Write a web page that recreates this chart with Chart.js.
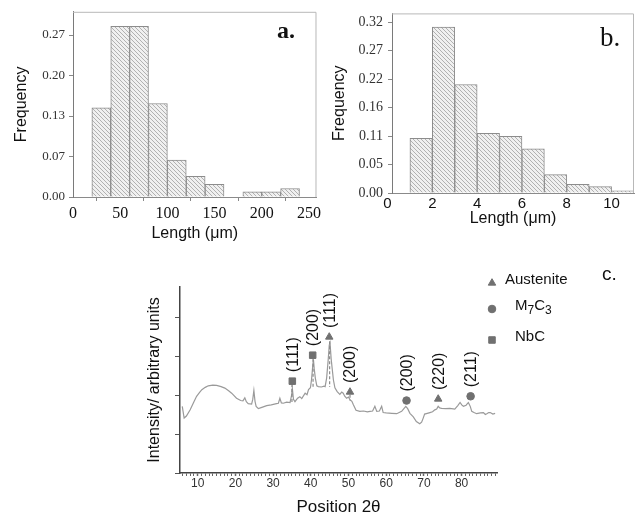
<!DOCTYPE html>
<html>
<head>
<meta charset="utf-8">
<title>Length distributions and XRD pattern</title>
<script src="https://cdn.jsdelivr.net/npm/chart.js@4.4.0/dist/chart.umd.min.js"></script>
<style>
    body { margin: 0; background: #fff; }
    #fig { position: relative; width: 639px; height: 518px; overflow: hidden; background: #fff; }
    #fig canvas { position: absolute; }
    .tag { position: absolute; color: #111; line-height: 1; white-space: nowrap; }
</style>
</head>
<body>
<div id="fig">
    <canvas id="chartA" width="324" height="250" style="left:0;top:0"></canvas>
    <canvas id="chartB" width="317" height="250" style="left:322px;top:0"></canvas>
    <canvas id="chartC" width="509" height="263" style="left:130px;top:255px"></canvas>
    <div class="tag" style="left:277px;top:17px;font:bold 24px 'Liberation Serif',serif">a.</div>
    <div class="tag" style="left:600px;top:22px;font:27px 'Liberation Serif',serif">b.</div>
    <div class="tag" style="left:602px;top:263px;font:19px 'Liberation Sans',sans-serif">c.</div>
</div>
<script>
const SANS = "'Liberation Sans', Arial, sans-serif";
const SERIF = "'Liberation Serif', 'Times New Roman', serif";

/* ============================================================
   DATA
   ============================================================ */
// a. length histogram (bins of 20 µm, centres)
const binsA = [30, 50, 70, 90, 110, 130, 150, 190, 210, 230];
const freqA = [0.147, 0.281, 0.281, 0.154, 0.061, 0.034, 0.021, 0.0086, 0.0086, 0.014];
const yTicksA = [0, 0.0667, 0.1333, 0.2, 0.2667];
const xTicksA = [0, 50, 100, 150, 200, 250];

// b. length histogram (bins of 1 µm, centres)
const binsB = [1.5, 2.5, 3.5, 4.5, 5.5, 6.5, 7.5, 8.5, 9.5, 10.5];
const freqB = [0.104, 0.315, 0.206, 0.1135, 0.1075, 0.0837, 0.0348, 0.0165, 0.0122, 0.0043];
const yTicksB = [0, 0.054, 0.108, 0.162, 0.216, 0.27, 0.324];
const xTicksB = [0, 2, 4, 6, 8, 10];

// c. XRD pattern
const theta = [5.9, 6.4, 7.0, 8.0, 9.0, 9.7, 10.5, 11.1, 12.0, 12.8, 14.0, 15.0, 16.2, 17.2, 18.2, 19.0,
    20.3, 21.4, 22.0, 22.5, 22.9, 23.4, 24.3, 24.6, 24.9, 25.2, 25.5, 26.1, 27.2, 28.3, 29.5, 30.9,
    31.4, 31.8, 32.2, 32.7, 33.6, 34.5, 34.9, 35.1, 35.4, 35.8, 36.5, 37.1, 37.6, 38.5, 39.0, 39.4,
    39.9, 40.2, 40.5, 40.7, 40.9, 41.2, 41.6, 42.0, 42.8, 43.5, 43.8, 44.2, 44.6, 44.9, 45.1, 45.4,
    45.7, 46.0, 46.4, 47.0, 47.7, 48.2, 48.6, 49.0, 49.5, 50.0, 50.4, 50.9, 51.3, 52.0, 53.0, 54.0,
    55.0, 55.7, 56.4, 57.0, 57.5, 58.2, 58.8, 59.2, 60.0, 61.5, 62.8, 64.1, 64.7, 65.2, 65.7, 66.3,
    67.2, 68.0, 68.9, 69.4, 69.8, 70.2, 70.9, 71.6, 72.3, 72.9, 73.4, 73.8, 74.2, 74.7, 75.8, 76.9,
    78.2, 79.0, 79.6, 80.1, 80.5, 81.2, 81.8, 82.3, 82.7, 83.3, 84.0, 85.0, 85.8, 86.3, 86.7, 87.2,
    87.6, 88.3, 88.9];
const intensity = [1.72, 1.42, 1.47, 1.63, 1.84, 1.98, 2.08, 2.15, 2.21, 2.25, 2.27, 2.26, 2.23, 2.19, 2.12, 2.06,
    1.93, 1.87, 1.86, 1.94, 1.84, 1.79, 1.78, 1.90, 2.13, 1.85, 1.72, 1.66, 1.70, 1.74, 1.76, 1.79,
    1.80, 1.93, 1.81, 1.80, 1.83, 1.82, 2.00, 2.19, 1.90, 1.84, 1.93, 1.97, 1.92, 2.06, 2.02, 2.15,
    2.20, 2.41, 2.75, 2.93, 2.70, 2.45, 2.25, 2.23, 2.22, 2.24, 2.23, 2.45, 2.90, 3.30, 3.36, 2.95,
    2.67, 2.40, 2.20, 2.10, 2.03, 2.09, 2.06, 1.98, 1.93, 1.96, 1.89, 1.85, 1.76, 1.62, 1.59, 1.60,
    1.58, 1.59, 1.60, 1.72, 1.59, 1.60, 1.72, 1.56, 1.55, 1.54, 1.53, 1.59, 1.66, 1.72, 1.66, 1.54,
    1.45, 1.33, 1.27, 1.31, 1.41, 1.52, 1.54, 1.56, 1.58, 1.63, 1.65, 1.72, 1.68, 1.67, 1.66, 1.67,
    1.65, 1.74, 1.82, 1.75, 1.72, 1.75, 1.82, 1.72, 1.59, 1.56, 1.53, 1.55, 1.56, 1.51, 1.53, 1.56,
    1.56, 1.52, 1.54];

const austeniteX = [44.9, 50.4, 73.8];
const austeniteY = [3.51, 2.09, 1.91];
const austeniteHkl = ['(111)', '(200)', '(220)'];
const m7c3X = [65.4, 82.4];
const m7c3Y = [1.87, 1.98];
const m7c3Hkl = ['(200)', '(211)'];
const nbcX = [35.1, 40.5];
const nbcY = [2.37, 3.04];
const nbcHkl = ['(111)', '(200)'];

// dashed drop lines under the main reflections
const dropX = [35.0, 40.6, 45.0, 50.4];
const dropTop = [2.3, 2.95, 3.4, 2.02];
const dropBase = [1.82, 2.22, 2.22, 1.87];

const yTicksC = [0, 1, 2, 3, 4];

/* ============================================================
   HELPERS
   ============================================================ */
function hatchPattern() {
    const c = document.createElement('canvas');
    c.width = 4; c.height = 4;
    const g = c.getContext('2d');
    g.fillStyle = '#f0f0f0';
    g.fillRect(0, 0, 4, 4);
    g.strokeStyle = '#a9a9a9';
    g.lineWidth = 0.9;
    g.beginPath();
    g.moveTo(-1, -1); g.lineTo(5, 5);
    g.moveTo(-1, 3); g.lineTo(1, 5);
    g.moveTo(3, -1); g.lineTo(5, 1);
    g.stroke();
    return g.createPattern(c, 'repeat');
}

// light box round the plot area (top + right sides)
const framePlugin = {
    id: 'frame',
    afterDraw(chart, args, opts) {
        if (!opts.color) return;
        const { ctx, chartArea: a } = chart;
        ctx.save();
        ctx.strokeStyle = opts.color;
        ctx.lineWidth = 1;
        ctx.beginPath();
        ctx.moveTo(a.left, a.top + 0.5);
        ctx.lineTo(a.right - 0.5, a.top + 0.5);
        ctx.lineTo(a.right - 0.5, a.bottom);
        ctx.stroke();
        ctx.restore();
    }
};

function histogram(id, bins, freqs, o) {
    return new Chart(document.getElementById(id), {
        type: 'bar',
        data: {
            datasets: [{
                data: bins.map((x, i) => ({ x: x, y: freqs[i] })),
                backgroundColor: hatchPattern(),
                borderColor: '#8c8c8c',
                borderWidth: 1,
                barPercentage: 1,
                categoryPercentage: 1
            }]
        },
        options: {
            responsive: false,
            animation: false,
            layout: { padding: o.padding },
            plugins: { legend: { display: false }, tooltip: { enabled: false }, frame: { color: '#b8b8b8' } },
            scales: {
                x: {
                    type: 'linear', offset: false, min: o.xMin, max: o.xMax,
                    afterBuildTicks: s => { s.ticks = o.xTicks.map(v => ({ value: v })); },
                    afterFit: s => { s.height = o.xHeight; },
                    ticks: { font: o.xFont, color: '#111', padding: o.xPad, autoSkip: false, maxRotation: 0 },
                    grid: { drawOnChartArea: false, drawTicks: o.xTickLen > 0, tickLength: o.xTickLen, tickColor: '#888' },
                    border: { color: '#8a8a8a', width: 1 },
                    title: { display: true, text: 'Length (μm)', color: '#111',
                             font: { family: SANS, size: 16 }, padding: { top: 0, bottom: o.xTitlePad } }
                },
                y: {
                    min: 0, max: o.yMax,
                    afterBuildTicks: s => { s.ticks = o.yTicks.map(v => ({ value: v })); },
                    afterFit: s => { s.width = o.yWidth; },
                    ticks: { font: { family: SERIF, size: o.yFontSize }, color: '#333', padding: o.yPad,
                             callback: v => v.toFixed(2) },
                    grid: { drawOnChartArea: false, tickLength: 4, tickColor: '#888' },
                    border: { color: '#7a7a7a', width: 1 },
                    title: { display: true, text: 'Frequency', color: '#111',
                             font: { family: SANS, size: 16 }, padding: { top: o.yTitlePad, bottom: 0 } }
                }
            }
        },
        plugins: [framePlugin]
    });
}

/* ============================================================
   1. HISTOGRAM a.
   ============================================================ */
histogram('chartA', binsA, freqA, {
    padding: { top: 8, right: 2, left: 0, bottom: 0 },
    xMin: 0, xMax: 258, xTicks: xTicksA, xHeight: 53,
    xFont: { family: SERIF, size: 16 }, xPad: 3, xTickLen: 4, xTitlePad: 7,
    yMax: 0.305, yTicks: yTicksA, yWidth: 73, yFontSize: 13, yPad: 4, yTitlePad: 12
});

/* ============================================================
   2. HISTOGRAM b.
   ============================================================ */
histogram('chartB', binsB, freqB, {
    padding: { top: 7, right: 5, left: 0, bottom: 0 },
    xMin: 0.2, xMax: 11, xTicks: xTicksB, xHeight: 57,
    xFont: { family: SANS, size: 15 }, xPad: 2, xTickLen: 0, xTitlePad: 22,
    yMax: 0.341, yTicks: yTicksB, yWidth: 70, yFontSize: 14, yPad: 5, yTitlePad: 8
});

/* ============================================================
   3. XRD PATTERN c.
   ============================================================ */
const MARK = '#707070';

// Miller indices written vertically above each phase marker
const hklPlugin = {
    id: 'hkl',
    afterDatasetsDraw(chart) {
        const ctx = chart.ctx;
        chart.data.datasets.forEach((ds, i) => {
            if (!ds.hkl) return;
            chart.getDatasetMeta(i).data.forEach((pt, j) => {
                ctx.save();
                ctx.translate(pt.x + 1, pt.y - 9);
                ctx.rotate(-Math.PI / 2);
                ctx.font = '16px ' + SANS;
                ctx.fillStyle = '#111';
                ctx.textAlign = 'left';
                ctx.textBaseline = 'middle';
                ctx.fillText(ds.hkl[j], 0, 0);
                ctx.restore();
            });
        });
    }
};

function drawFormula(ctx, text, x, y) {
    let cx = x;
    for (const ch of text) {
        const sub = /[0-9]/.test(ch);
        ctx.font = (sub ? '12px ' : '15px ') + SANS;
        ctx.fillText(ch, cx, sub ? y + 5 : y);
        cx += ctx.measureText(ch).width;
    }
}

// phase legend at the top right
const phaseLegend = {
    id: 'phaseLegend',
    afterDraw(chart) {
        const { ctx, chartArea: a } = chart;
        const rows = [{ dy: -4, dx: 13 }, { dy: 22, dx: 23 }, { dy: 53, dx: 23 }];
        let r = 0;
        chart.data.datasets.forEach(ds => {
            if (!ds.hkl) return;
            const row = rows[r++];
            const mx = a.right - 5, my = a.top + row.dy;
            ctx.save();
            ctx.fillStyle = MARK;
            ctx.strokeStyle = MARK;
            Chart.helpers.drawPoint(ctx, { pointStyle: ds.pointStyle, radius: ds.pointRadius, rotation: 0, borderWidth: 1 }, mx, my);
            ctx.fillStyle = '#111';
            ctx.textAlign = 'left';
            ctx.textBaseline = 'middle';
            drawFormula(ctx, ds.label, mx + row.dx, my - 3);
            ctx.restore();
        });
    }
};

const phaseSet = (label, style, radius, xs, ys, hkl) => ({
    label: label,
    data: xs.map((x, i) => ({ x: x, y: ys[i] })),
    hkl: hkl,
    pointStyle: style,
    pointRadius: radius,
    backgroundColor: MARK,
    borderColor: MARK,
    borderWidth: 1,
    showLine: false
});

new Chart(document.getElementById('chartC'), {
    type: 'scatter',
    data: {
        datasets: [
            phaseSet('Austenite', 'triangle', 4.3, austeniteX, austeniteY, austeniteHkl),
            phaseSet('M7C3', 'circle', 3.8, m7c3X, m7c3Y, m7c3Hkl),
            phaseSet('NbC', 'rect', 4.6, nbcX, nbcY, nbcHkl),
            {
                label: 'drop',
                data: dropX.flatMap((x, i) => [{ x: x, y: dropTop[i] }, { x: x, y: dropBase[i] }, { x: x + 0.01, y: null }]),
                showLine: true, spanGaps: false, pointRadius: 0,
                borderColor: '#8a8a8a', borderWidth: 1.2, borderDash: [3, 2]
            },
            {
                label: 'pattern',
                data: theta.map((x, i) => ({ x: x, y: intensity[i] })),
                showLine: true, pointRadius: 0, tension: 0,
                borderColor: '#9a9a9a', borderWidth: 1.2
            }
        ]
    },
    options: {
        responsive: false,
        animation: false,
        layout: { padding: { top: 32, right: 142, left: 0, bottom: 0 } },
        plugins: { legend: { display: false }, tooltip: { enabled: false } },
        scales: {
            x: {
                type: 'linear', min: 5.3, max: 89.4,
                afterBuildTicks: s => {
                    const t = [];
                    for (let v = 6; v <= 89; v++) t.push({ value: v });
                    s.ticks = t;
                },
                afterFit: s => { s.height = 45; },
                ticks: { font: { family: SANS, size: 12 }, color: '#333', padding: 0, autoSkip: false,
                         maxRotation: 0, minRotation: 0, callback: v => (v % 10 === 0 ? String(v) : '') },
                grid: { drawOnChartArea: false, tickLength: 3, tickColor: '#666',
                        tickWidth: c => (c.tick && c.tick.value % 10 === 0 ? 1.5 : 1) },
                border: { color: '#444', width: 1.5 },
                title: { display: true, text: 'Position 2θ', color: '#111',
                         font: { family: SANS, size: 17 }, padding: { top: 0, bottom: 0 } }
            },
            y: {
                min: 0, max: 4.8,
                afterBuildTicks: s => { s.ticks = yTicksC.map(v => ({ value: v })); },
                afterFit: s => { s.width = 50; },
                ticks: { display: false },
                grid: { drawOnChartArea: false, tickLength: 5, tickColor: '#555' },
                border: { color: '#444', width: 1.5 },
                title: { display: true, text: 'Intensity/ arbitrary units', color: '#111',
                         font: { family: SANS, size: 16 }, padding: { top: 15, bottom: 0 } }
            }
        }
    },
    plugins: [hklPlugin, phaseLegend]
});
</script>
</body>
</html>
